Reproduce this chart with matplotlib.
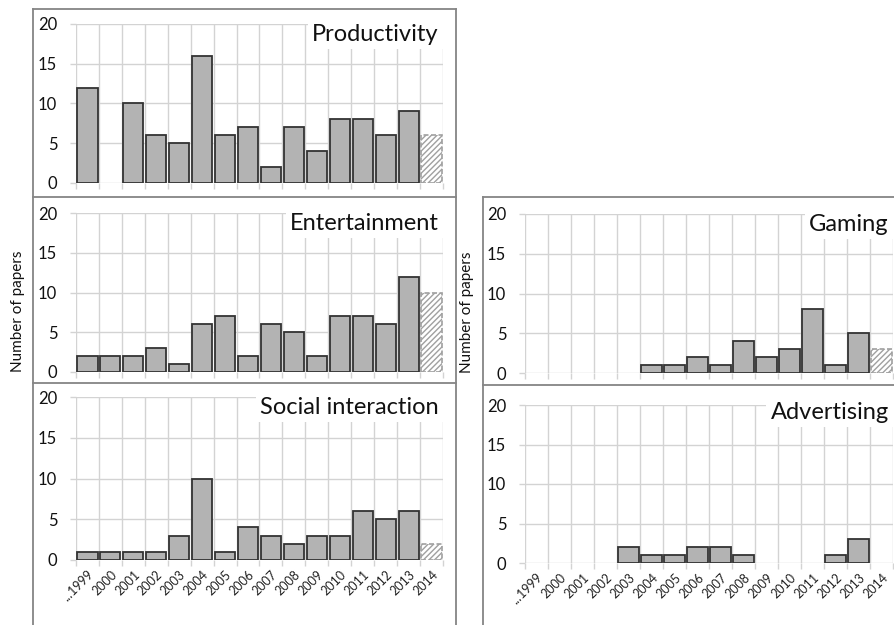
import matplotlib
matplotlib.use("Agg")
import matplotlib.pyplot as plt
from matplotlib.lines import Line2D

years = ["...1999", "2000", "2001", "2002", "2003", "2004", "2005", "2006",
         "2007", "2008", "2009", "2010", "2011", "2012", "2013", "2014"]
productivity = [12, 0, 10, 6, 5, 16, 6, 7, 2, 7, 4, 8, 8, 6, 9, 6]
entertainment = [2, 2, 2, 3, 1, 6, 7, 2, 6, 5, 2, 7, 7, 6, 12, 10]
social = [1, 1, 1, 1, 3, 10, 1, 4, 3, 2, 3, 3, 6, 5, 6, 2]
gaming = [0, 0, 0, 0, 0, 1, 1, 2, 1, 4, 2, 3, 8, 1, 5, 3]
advertising = [0, 0, 0, 0, 2, 1, 1, 2, 2, 1, 0, 0, 0, 1, 3, 0]
partial_year = "2014"
ylabel = "Number of papers"

plt.rcParams['font.family'] = ['Lato', 'DejaVu Sans']
plt.rcParams['hatch.color'] = "#bbbbbb"

W, H = 895, 625
fig = plt.figure(figsize=(W / 100, H / 100), dpi=100)

def fx(p):
    return p / W

def fy(p):
    return 1 - p / H

GRID = "#d3d3d3"
BAR = "#b3b3b3"
EDGE = "#333333"
FRAME = "#858585"

def panel(x0, x1, ytop, ybot, values, title, show_x, title_dy=17):
    ax = fig.add_axes([fx(x0), fy(ybot), fx(x1) - fx(x0), fy(ytop) - fy(ybot)])
    n = len(years)
    xs = list(range(n))
    for x, v, y in zip(xs, values, years):
        if v <= 0:
            continue
        if y == partial_year:
            ax.bar(x, v, width=0.88, color="white", edgecolor="#a0a0a0",
                   hatch="//////", linewidth=1.2, linestyle=(0, (3, 1.5)), zorder=3)
        else:
            ax.bar(x, v, width=0.88, color=BAR, edgecolor=EDGE, linewidth=1.3, zorder=3)
    ax.set_xlim(-0.5, n - 0.5)
    ax.set_ylim(0, 20)
    ax.set_yticks([0, 5, 10, 15, 20])
    ax.set_xticks([i - 0.5 for i in range(n + 1)], minor=True)
    ax.set_xticks(xs)
    if show_x:
        ax.set_xticklabels(years, rotation=45, ha="right", va="top",
                           rotation_mode="anchor", fontsize=9, color="#222222")
    else:
        ax.set_xticklabels([])
    ax.tick_params(axis="x", which="major", length=0, pad=6)
    ax.tick_params(axis="x", which="minor", length=4, color=GRID, width=1)
    ax.tick_params(axis="y", length=4.5, color=GRID, width=1, pad=9,
                   labelsize=12, labelcolor="#111111")
    ax.grid(True, axis="y", which="major", color=GRID, linewidth=1, zorder=0)
    ax.grid(True, axis="x", which="minor", color=GRID, linewidth=1, zorder=0)
    ax.set_axisbelow(True)
    for s in ax.spines.values():
        s.set_visible(False)
    ax.annotate(title, xy=(1, 1), xycoords="axes fraction",
                xytext=(-3, -title_dy * 0.72), textcoords="offset points",
                ha="right", va="baseline", fontsize=17, color="#111111",
                zorder=10, annotation_clip=False,
                bbox=dict(facecolor="white", edgecolor="none", pad=3.0))
    return ax

panel(76, 443, 24, 183, productivity, "Productivity", False)
panel(76, 443, 213, 372, entertainment, "Entertainment", False)
panel(76, 443, 397, 560, social, "Social interaction", True)
panel(525, 893, 214, 373, gaming, "Gaming", False)
panel(525, 893, 405, 563, advertising, "Advertising", True, title_dy=14)

def line(xa, ya, xb, yb):
    fig.add_artist(Line2D([fx(xa), fx(xb)], [fy(ya), fy(yb)], color=FRAME,
                          linewidth=1.3, transform=fig.transFigure))

line(33, 9, 456, 9)
line(33, 9, 33, 625)
line(456, 9, 456, 625)
line(33, 197, 456, 197)
line(33, 383, 456, 383)
line(483, 197, 895, 197)
line(483, 197, 483, 625)
line(483, 385, 895, 385)

fig.text(fx(18), fy(311), ylabel, rotation=90, ha="center", va="center",
         fontsize=11, color="#111111")
fig.text(fx(467), fy(312), ylabel, rotation=90, ha="center", va="center",
         fontsize=11, color="#111111")

fig.savefig("out.png", dpi=100, facecolor="white")
